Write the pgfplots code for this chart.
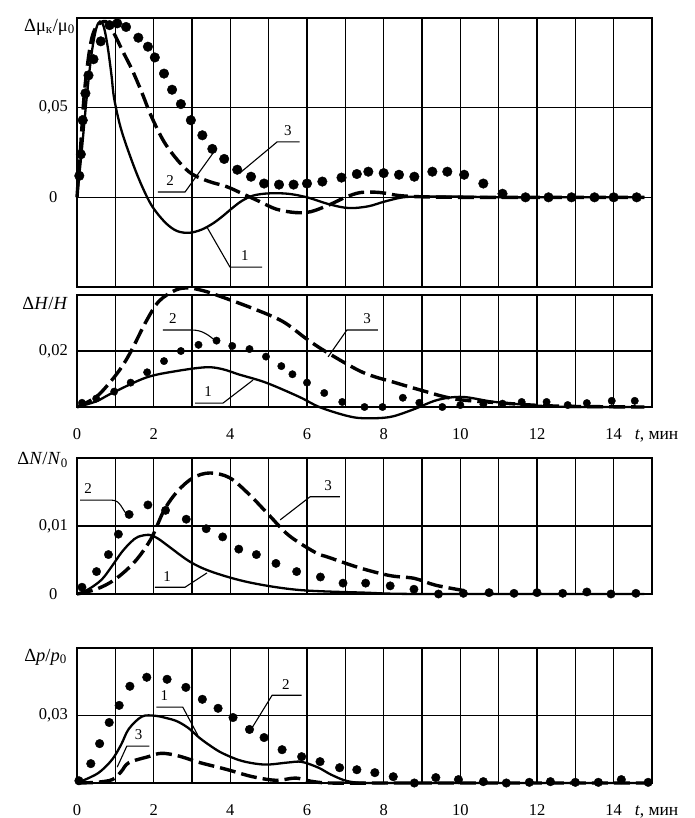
\documentclass[border=0pt]{standalone}
\usepackage{fontspec}
\setmainfont{Liberation Serif}
\usepackage{pgfplots}
\pgfplotsset{compat=1.18}
\newcommand\fs{\fontsize{15pt}{18pt}\selectfont}
\newcommand\ft{\fontsize{16.5pt}{19pt}\selectfont}
\newcommand\fq{\fontsize{18.5pt}{21pt}\selectfont}
\pgfplotsset{
 panel/.style={scale only axis, width=575pt, xmin=0, xmax=15,
   xtick={0,1,...,15}, xticklabels={}, grid=major,
   scaled y ticks=false, scaled x ticks=false,
   major grid style={black, line width=1.5pt},
   axis line style={black, line width=1.8pt},
   major tick length=0pt, clip=false, anchor=north west,
   tick label style={font=\ft},
   yticklabel style={xshift=-4pt},
   xticklabel style={anchor=base, yshift=-32.5pt}},
 c1/.style={black, line width=2.3pt, smooth, tension=0.55, mark=none},
 c3/.style={black, line width=3.4pt, dash pattern=on 16pt off 6pt, smooth, tension=0.55, mark=none},
 c2/.style={black, only marks, mark=*, mark size=4.6pt},
}
\tikzset{
 lead/.style={black, line width=1.1pt},
 lab/.style={font=\fs, inner sep=0pt, anchor=south, yshift=6pt},
 qlab/.style={font=\fq, inner sep=0pt, anchor=east},
}
\begin{document}
\fs
\begin{tikzpicture}
\useasboundingbox (0,0) rectangle (694pt,-818pt);
% ---------------- Panel 1 ----------------
\begin{axis}[panel, at={(77pt,-18pt)}, height=269pt,
  ymin=-0.05, ymax=0.1, ytick={-0.05,0,0.05,0.1},
  yticklabels={,\makebox[1.75em][c]{0},{0,05},}]
\addplot[c1] coordinates {(0,0) (0.12,0.025) (0.25,0.055) (0.38,0.08) (0.5,0.094) (0.6,0.098) (0.7,0.095) (0.8,0.084) (0.9,0.068) (0.97,0.055) (1.15,0.038) (1.44,0.0198) (1.7,0.006) (1.96,-0.005) (2.3,-0.014) (2.6,-0.0187) (2.92,-0.0198) (3.25,-0.018) (3.55,-0.0145) (3.8,-0.0105) (4.05,-0.006) (4.3,-0.002) (4.6,0.001) (5.0,0.0022) (5.5,0.002) (6.0,0.0) (6.6,-0.004) (7.1,-0.006) (7.6,-0.005) (8.0,-0.0025) (8.5,0) (9,0.0004) (10,0.0004) (11,0) (12,0) (13,0) (14.8,0)};
\addplot[c3] coordinates {(0,0) (0.1,0.03) (0.2,0.06) (0.35,0.085) (0.5,0.095) (0.75,0.098) (0.95,0.092) (1.18,0.082) (1.44,0.071) (1.7,0.058) (1.93,0.0456) (2.27,0.031) (2.66,0.0198) (3.0,0.013) (3.45,0.0088) (3.9,0.006) (4.3,0.0022) (4.75,-0.0022) (5.2,-0.0066) (5.7,-0.0085) (6.1,-0.008) (6.6,-0.004) (7.0,0.0) (7.4,0.0027) (7.9,0.0027) (8.4,0.001) (9,0.0003) (10,0) (11,0) (12,0) (13,0) (14.8,0)};
\addplot[c2, mark size=4.8pt] coordinates {(0.06,0.012) (0.1,0.024) (0.15,0.043) (0.22,0.058) (0.3,0.068) (0.43,0.077) (0.62,0.087) (0.85,0.096) (1.05,0.097) (1.28,0.095) (1.6,0.089) (1.85,0.084) (2.03,0.078) (2.27,0.069) (2.48,0.06) (2.71,0.052) (2.97,0.043) (3.27,0.0346) (3.53,0.027) (3.84,0.0214) (4.18,0.0154) (4.54,0.0115) (4.88,0.0077) (5.27,0.0071) (5.65,0.0071) (6.0,0.0077) (6.4,0.0088) (6.9,0.011) (7.3,0.013) (7.6,0.0143) (8.0,0.0135) (8.4,0.0126) (8.8,0.0115) (9.27,0.0143) (9.66,0.0143) (10.1,0.0126) (10.6,0.0077) (11.1,0.002) (11.7,0) (12.3,0) (12.9,0) (13.5,0) (14.0,0) (14.6,0)};
\draw[lead] (axis cs:2.11,0.003) -- (axis cs:2.82,0.003) -- (axis cs:3.55,0.0247);
\node[lab] at (axis cs:2.43,0.003) {2};
\draw[lead] (axis cs:5.81,0.0309) -- (axis cs:5.22,0.0309) -- (axis cs:4.25,0.0136);
\node[lab] at (axis cs:5.5,0.0309) {3};
\draw[lead] (axis cs:4.83,-0.0389) -- (axis cs:3.99,-0.0389) -- (axis cs:3.39,-0.0166);
\node[lab] at (axis cs:4.38,-0.0389) {1};
\node[qlab, xshift=-2pt, yshift=-9pt] at (rel axis cs:0,1) {Δμ\textsubscript{к}/μ\textsubscript{0}};
\end{axis}
% ---------------- Panel 2 ----------------
\begin{axis}[panel, at={(77pt,-295pt)}, height=112pt,
  ymin=0, ymax=0.04, ytick={0,0.02,0.04},
  yticklabels={,{0,02},},
  xticklabels={0,,2,,4,,6,,8,,10,,12,,14,,}]
\addplot[c1] coordinates {(0,0) (0.5,0.002) (0.92,0.005) (1.8,0.0105) (2.58,0.0128) (3.37,0.0142) (3.8,0.0135) (4.23,0.0116) (4.93,0.0087) (5.8,0.0036) (6.32,0) (7.0,-0.003) (7.45,-0.004) (8.15,-0.0036) (8.75,-0.001) (9.4,0.0025) (10.05,0.0036) (10.9,0.0018) (12,0.0005) (13,0) (14.8,0)};
\addplot[c3] coordinates {(0,0) (0.5,0.0036) (0.92,0.0098) (1.2,0.015) (1.44,0.0207) (1.8,0.0305) (2.14,0.0378) (2.58,0.0418) (2.92,0.0425) (3.3,0.0415) (3.7,0.0397) (4.57,0.0353) (5.36,0.0306) (5.98,0.0244) (6.5,0.0197) (7.45,0.0124) (8.3,0.0087) (9.1,0.0055) (9.6,0.0036) (10.05,0.0025) (10.9,0.0016) (12,0.0006) (13,0.0002) (14.8,0)};
\addplot[c2, mark size=3.7pt] coordinates {(0.13,0.0015) (0.5,0.003) (0.97,0.0055) (1.4,0.0087) (1.83,0.0124) (2.27,0.0164) (2.71,0.02) (3.17,0.0222) (3.64,0.0237) (4.05,0.0218) (4.5,0.0207) (4.93,0.018) (5.33,0.0146) (5.62,0.0117) (6.0,0.0087) (6.45,0.005) (6.92,0.0018) (7.5,0) (7.97,0) (8.5,0.0033) (8.93,0.0015) (9.53,0) (10.0,0.0007) (10.6,0.001) (11.1,0.0012) (11.6,0.0018) (12.25,0.0018) (12.8,0.0007) (13.3,0.0014) (13.95,0.0022) (14.55,0.0022)};
\draw[lead] (axis cs:2.24,0.0275) -- (axis cs:2.99,0.0275) to[out=0,in=140] (axis cs:3.65,0.0232);
\node[lab] at (axis cs:2.5,0.0275) {2};
\draw[lead] (axis cs:3.08,0.0014) -- (axis cs:3.81,0.0014) -- (axis cs:4.59,0.0096);
\node[lab] at (axis cs:3.42,0.0014) {1};
\draw[lead] (axis cs:7.85,0.0275) -- (axis cs:7.04,0.0275) -- (axis cs:6.55,0.0179);
\node[lab] at (axis cs:7.57,0.0275) {3};
\node[qlab, xshift=-9pt, yshift=-8pt] at (rel axis cs:0,1) {Δ\textit{H}/\textit{H}};
\node[anchor=base west, inner sep=0pt, yshift=-32.5pt, font=\fontsize{17.5pt}{20pt}\selectfont] at (axis cs:14.55,0) {\textit{t}, мин};
\end{axis}
% ---------------- Panel 3 ----------------
\begin{axis}[panel, at={(77pt,-458pt)}, height=136pt,
  ymin=0, ymax=0.02, ytick={0,0.01,0.02},
  yticklabels={\makebox[1.75em][c]{0},{0,01},}]
\addplot[c1] coordinates {(0,0) (0.3,0.0007) (0.64,0.0021) (0.9,0.004) (1.16,0.0061) (1.4,0.0076) (1.59,0.0084) (1.88,0.0087) (2.1,0.0082) (2.37,0.0071) (2.96,0.0047) (3.55,0.0032) (4.5,0.0017) (5.78,0.0006) (7.5,0.0002) (9,0) (14.8,0)};
\addplot[c3] coordinates {(0,0) (0.5,0.0007) (0.98,0.0021) (1.5,0.0047) (1.93,0.0081) (2.27,0.0123) (2.62,0.0151) (3.03,0.0171) (3.47,0.0178) (3.98,0.0171) (4.5,0.0146) (5.01,0.0116) (5.53,0.0086) (6.22,0.0061) (6.56,0.0054) (7.4,0.0038) (8.17,0.0027) (8.8,0.0023) (9.35,0.0013) (10.1,0.0005)};
\addplot[c2, mark size=4.2pt] coordinates {(0.13,0.001) (0.51,0.0033) (0.82,0.0058) (1.08,0.0088) (1.36,0.0117) (1.85,0.0131) (2.31,0.0123) (2.85,0.011) (3.37,0.0096) (3.8,0.0084) (4.22,0.0066) (4.68,0.0058) (5.19,0.0045) (5.73,0.0033) (6.35,0.0025) (6.94,0.0016) (7.53,0.0016) (8.17,0.0012) (8.79,0.0007) (9.43,0) (10.08,0.0001) (10.75,0.0002) (11.4,0.0001) (12.0,0.0002) (12.67,0.0001) (13.3,0.0003) (13.93,0) (14.58,0.0001)};
\draw[lead] (axis cs:0.08,0.0138) -- (axis cs:0.91,0.0138) to[out=0,in=135] (axis cs:1.33,0.0115);
\node[lab] at (axis cs:0.29,0.0138) {2};
\draw[lead] (axis cs:6.86,0.0143) -- (axis cs:6.08,0.0143) -- (axis cs:5.3,0.0109);
\node[lab] at (axis cs:6.55,0.0143) {3};
\draw[lead] (axis cs:2.03,0.001) -- (axis cs:2.82,0.001) -- (axis cs:3.39,0.0031);
\node[lab] at (axis cs:2.35,0.001) {1};
\node[qlab, xshift=-9pt, yshift=-2pt] at (rel axis cs:0,1) {Δ\textit{N}/\textit{N}\textsubscript{0}};
\end{axis}
% ---------------- Panel 4 ----------------
\begin{axis}[panel, at={(77pt,-648pt)}, height=135pt,
  ymin=0, ymax=0.06, ytick={0,0.03,0.06},
  yticklabels={,{0,03},},
  xticklabels={0,,2,,4,,6,,8,,10,,12,,14,,}]
\addplot[c1] coordinates {(0,0) (0.33,0.0024) (0.6,0.005) (0.92,0.0105) (1.15,0.017) (1.35,0.024) (1.69,0.0295) (2.03,0.0299) (2.3,0.029) (2.6,0.0275) (2.9,0.0245) (3.2,0.02) (3.5,0.0163) (3.8,0.0132) (4.3,0.0098) (4.9,0.0082) (5.5,0.0091) (5.86,0.0094) (6.3,0.0068) (6.63,0.0037) (7.06,0.0008) (7.6,0) (9,0) (14.9,0)};
\addplot[c3] coordinates {(0,0) (0.5,0.0003) (0.92,0.0015) (1.15,0.005) (1.35,0.009) (1.86,0.0117) (2.2,0.0132) (2.63,0.0121) (3.22,0.009) (3.91,0.006) (4.58,0.0028) (5.2,0.0012) (5.7,0.0022) (6.1,0.0008) (6.6,0) (8,0) (10,0) (12,0) (14.9,0)};
\addplot[c2, mark size=4.3pt] coordinates {(0.05,0.001) (0.36,0.0086) (0.59,0.0175) (0.84,0.0269) (1.1,0.0345) (1.38,0.043) (1.82,0.047) (2.35,0.0461) (2.84,0.0425) (3.27,0.0372) (3.68,0.0332) (4.07,0.0291) (4.5,0.0238) (4.88,0.0202) (5.35,0.0148) (5.86,0.0117) (6.34,0.0095) (6.85,0.0068) (7.3,0.0059) (7.77,0.0046) (8.25,0.0028) (8.8,0) (9.36,0.0024) (9.95,0.0015) (10.6,0.0006) (11.2,0) (11.8,0.0003) (12.35,0.0006) (13.0,0.0003) (13.6,0.0003) (14.2,0.0015) (14.9,0.0003)};
\draw[lead] (axis cs:5.86,0.039) -- (axis cs:5.09,0.039) -- (axis cs:4.58,0.0249);
\node[lab] at (axis cs:5.45,0.039) {2};
\draw[lead] (axis cs:2.07,0.0337) -- (axis cs:2.76,0.0337) -- (axis cs:3.15,0.0213);
\node[lab] at (axis cs:2.28,0.0337) {1};
\draw[lead] (axis cs:1.89,0.0164) -- (axis cs:1.3,0.0164) -- (axis cs:1.05,0.0071);
\node[lab] at (axis cs:1.61,0.0164) {3};
\node[qlab, xshift=-10pt, yshift=-9pt] at (rel axis cs:0,1) {Δ\textit{p}/\textit{p}\textsubscript{0}};
\node[anchor=base west, inner sep=0pt, yshift=-32.5pt, font=\fontsize{17.5pt}{20pt}\selectfont] at (axis cs:14.55,0) {\textit{t}, мин};
\end{axis}
\end{tikzpicture}
\end{document}
